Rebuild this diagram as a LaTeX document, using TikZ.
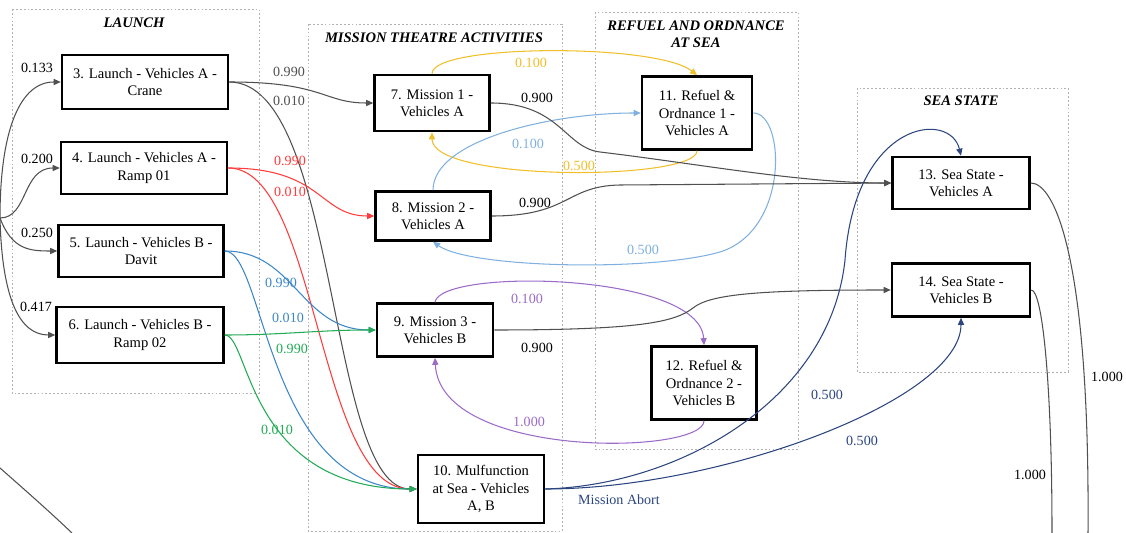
\documentclass[tikz,border=0pt]{standalone}
\usepackage[dvipsnames]{xcolor}
\usepackage{fontspec}
\setmainfont{Liberation Serif}
\usetikzlibrary{arrows.meta}

\definecolor{edgegray}{HTML}{505050}
\definecolor{redline}{HTML}{FF3B3B}
\definecolor{blueline}{HTML}{3C87C8}
\definecolor{skyline}{HTML}{80B0E0}
\definecolor{greenline}{HTML}{22AA55}
\definecolor{goldline}{HTML}{F0BF2A}
\definecolor{purpleline}{HTML}{9B6BC8}
\definecolor{navyline}{HTML}{2B4580}

\begin{document}
\begin{tikzpicture}[x=0.02cm,y=-0.02cm,>={Triangle[length=4pt,width=3.5pt]},
    every node/.style={font=\fontsize{8.3}{9.8}\selectfont},
    box/.style={draw,line width=1.5pt,fill=white,align=center,inner sep=1pt},
    group/.style={draw=gray!60,dash pattern=on 1pt off 1.2pt,line width=0.5pt},
    grouptitle/.style={font=\fontsize{8.3}{9.8}\selectfont\bfseries\itshape,align=center},
    prob/.style={font=\fontsize{8}{9}\selectfont},
    link/.style={->,line width=0.6pt}]

    \useasboundingbox (0,0) rectangle (1126,533);

    % activity groups
    \draw[group] (12,9) rectangle (259,393);
    \draw[group] (308,24) rectangle (562,531);
    \draw[group] (595,12) rectangle (798,449);
    \draw[group] (857,88) rectangle (1068,372);
    \node[grouptitle] (tlaunch) at (134,23) {LAUNCH};
    \node[grouptitle] (tmission) at (434,38) {MISSION THEATRE ACTIVITIES};
    \node[grouptitle] (trefuel) at (696,34) {REFUEL AND ORDNANCE\\AT SEA};
    \node[grouptitle] (tsea) at (961,101) {SEA STATE};

    % states
    \node[box,minimum width=3.32cm,minimum height=1.08cm] (s3) at (145,82) {3. Launch - Vehicles A -\\Crane};
    \node[box,minimum width=3.32cm,minimum height=1.04cm] (s4) at (144,168) {4. Launch - Vehicles A -\\Ramp 01};
    \node[box,minimum width=3.30cm,minimum height=1.04cm] (s5) at (141,251) {5. Launch - Vehicles B -\\Davit};
    \node[box,minimum width=3.34cm,minimum height=1.12cm] (s6) at (140,335) {6. Launch - Vehicles B -\\Ramp 02};
    \node[box,minimum width=2.30cm,minimum height=1.12cm] (s7) at (432,103) {7. Mission 1 -\\Vehicles A};
    \node[box,minimum width=2.30cm,minimum height=0.98cm] (s8) at (433,216) {8. Mission 2 -\\Vehicles A};
    \node[box,minimum width=2.32cm,minimum height=1.06cm] (s9) at (435,330) {9. Mission 3 -\\Vehicles B};
    \node[box,minimum width=2.52cm,minimum height=1.36cm] (s10) at (481,489) {10. Mulfunction\\at Sea - Vehicles\\A, B};
    \node[box,minimum width=2.20cm,minimum height=1.46cm] (s11) at (697,113) {11. Refuel \&\\Ordnance 1 -\\Vehicles A};
    \node[box,minimum width=2.10cm,minimum height=1.46cm] (s12) at (704,383) {12. Refuel \&\\Ordnance 2 -\\Vehicles B};
    \node[box,minimum width=2.74cm,minimum height=1.04cm] (s13) at (961,183) {13. Sea State -\\Vehicles A};
    \node[box,minimum width=2.76cm,minimum height=1.06cm] (s14) at (961,290) {14. Sea State -\\Vehicles B};

    \coordinate (src) at (0,218);
    \coordinate (back0) at (0,468);
    \coordinate (back1) at (72,533);
    \coordinate (out13) at (1088,533);
    \coordinate (out14) at (1052,533);

    % into the launch states
    \draw[link,edgegray] (src) .. controls (0,130) and (20,82) .. (s3.west);
    \draw[link,edgegray] (src) .. controls (28,218) and (22,168) .. (s4.west);
    \draw[link,edgegray] (src) .. controls (12,250) and (30,251) .. (s5.west);
    \draw[link,edgegray] (src) .. controls (2,300) and (20,335) .. (s6.west);
    \draw[edgegray,line width=0.6pt] (back0) .. controls (25,490) and (50,512) .. (back1);
    \node[prob] (p3) at (37,68) {0.133};
    \node[prob] (p4) at (37,159) {0.200};
    \node[prob] (p5) at (37,233) {0.250};
    \node[prob] (p6) at (36,307) {0.417};

    % launch -> mission / malfunction
    \draw[link,edgegray] (s3.east) .. controls +(110,0) and +(-90,0) .. (s10.west);
    \draw[link,edgegray] (s3.east) .. controls +(95,0) and +(-50,0) .. (s7.west);
    \draw[link,redline] (s4.east) .. controls +(90,0) and +(-100,0) .. (s10.west);
    \draw[link,redline] (s4.east) .. controls +(95,0) and +(-55,0) .. (s8.west);
    \draw[link,blueline] (s5.east) .. controls +(40,0) and +(-150,0) .. (s10.west);
    \draw[link,blueline] (s5.east) .. controls +(70,0) and +(-75,0) .. (s9.west);
    \draw[link,greenline] (s6.east) to[out=0,in=180] (s9.west);
    \draw[link,greenline] (s6.east) .. controls +(25,0) and +(-170,0) .. (s10.west);
    \node[prob,edgegray] (p37) at (289,72) {0.990};
    \node[prob,edgegray] (p310) at (289,101) {0.010};
    \node[prob,redline] (p48) at (290,161) {0.990};
    \node[prob,redline] (p410) at (290,192) {0.010};
    \node[prob,blueline] (p59) at (281,283) {0.990};
    \node[prob,blueline] (p510) at (288,318) {0.010};
    \node[prob,greenline] (p69) at (292,349) {0.990};
    \node[prob,greenline] (p610) at (277,430) {0.010};

    % refuel loops
    \draw[link,goldline] (s7.north) .. controls +(0,-30) and +(-40,-32) .. (s11.north);
    \draw[link,goldline] (s11.south) .. controls +(0,30) and +(0,50) .. (s7.south);
    \draw[link,skyline] (s8.north) .. controls +(0,-50) and +(-90,0) .. (s11.west);
    \draw[link,skyline] (s11.east) .. controls (785,113) and (790,230) .. (720,252) .. controls (650,272) and (470,268) .. (s8.south);
    \draw[link,purpleline] (s9.north) .. controls (440,268) and (700,272) .. (s12.north);
    \draw[link,purpleline] (s12.south) .. controls (704,455) and (440,460) .. (s9.south);
    \node[prob,goldline] (p711) at (531,63) {0.100};
    \node[prob,goldline] (p117) at (579,166) {0.500};
    \node[prob,skyline] (p811) at (528,144) {0.100};
    \node[prob,skyline] (p118) at (643,250) {0.500};
    \node[prob,purpleline] (p912) at (527,299) {0.100};
    \node[prob,purpleline] (p129) at (529,422) {1.000};

    % mission -> sea state
    \draw[link,edgegray] (s7.east) .. controls (560,103) and (565,148) .. (600,152) .. controls (700,164) and (800,183) .. (s13.west);
    \draw[link,edgegray] (s8.east) .. controls (570,216) and (565,186) .. (620,185) -- (s13.west);
    \draw[link,edgegray] (s9.east) .. controls (640,330) and (675,322) .. (693,308) .. controls (710,294) and (760,290) .. (s14.west);
    \node[prob] (p713) at (537,98) {0.900};
    \node[prob] (p813) at (535,203) {0.900};
    \node[prob] (p914) at (537,348) {0.900};

    % mission abort
    \draw[link,navyline] (s10.east) .. controls (680,485) and (830,400) .. (845,260) .. controls (855,120) and (950,110) .. (s13.north);
    \draw[link,navyline] (s10.east) .. controls (720,489) and (961,400) .. (s14.south);
    \node[prob,navyline] (pabort) at (619,500) {Mission Abort};
    \node[prob,navyline] (p1013) at (827,395) {0.500};
    \node[prob,navyline] (p1014) at (862,441) {0.500};

    % leaving the sea states
    \draw[edgegray,line width=0.6pt] (s13.east) .. controls (1055,183) and (1090,260) .. (out13);
    \draw[edgegray,line width=0.6pt] (s14.east) .. controls (1042,290) and (1052,380) .. (out14);
    \node[prob] (p13) at (1107,377) {1.000};
    \node[prob] (p14) at (1030,475) {1.000};
\end{tikzpicture}
\end{document}
